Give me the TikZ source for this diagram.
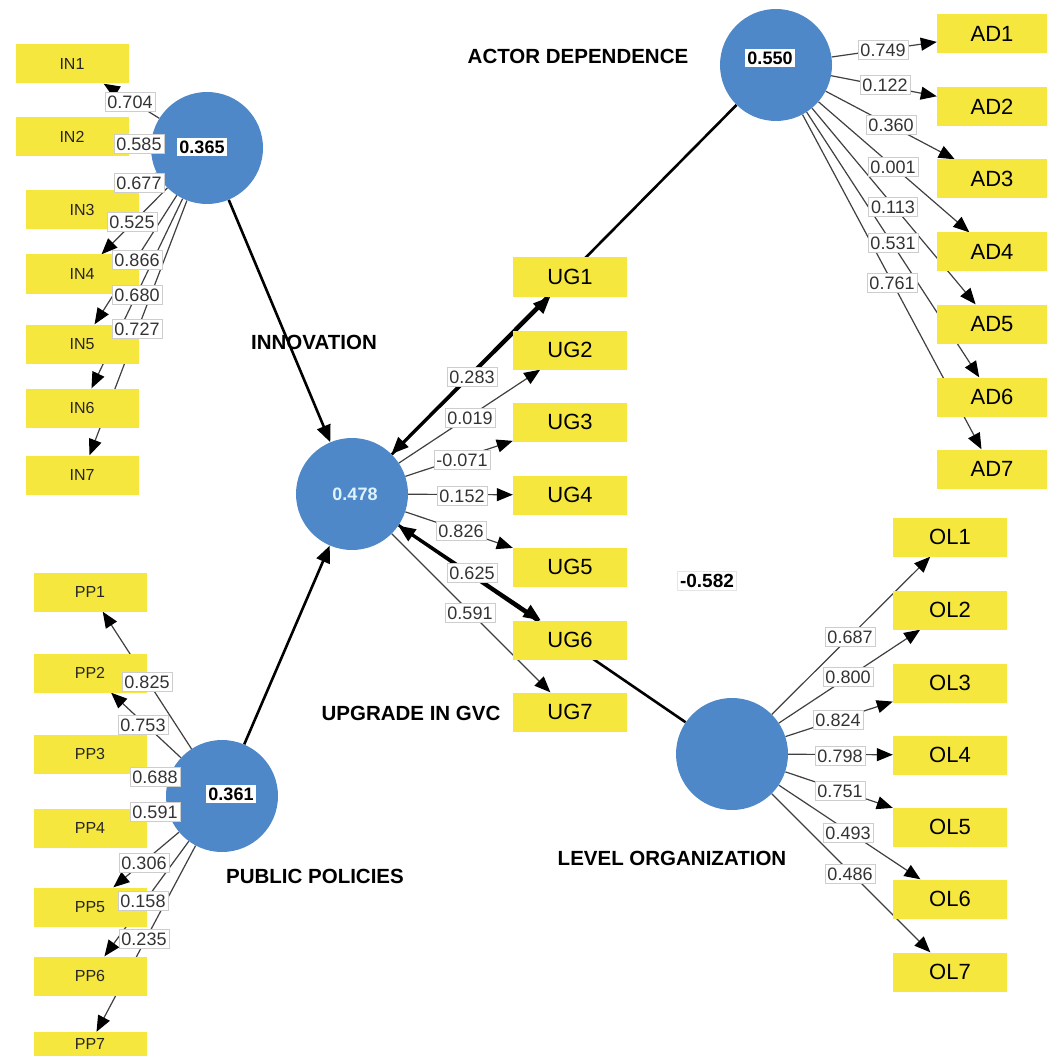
\documentclass[tikz,border=0pt]{standalone}
\usepackage{fontspec}
\setmainfont{Liberation Sans}
\usetikzlibrary{arrows.meta,backgrounds}
\definecolor{lvblue}{RGB}{78,136,200}
\definecolor{mvyellow}{RGB}{246,231,62}
\definecolor{lblgray}{RGB}{205,205,205}
\definecolor{valblue}{RGB}{222,242,255}
\begin{document}
\begin{tikzpicture}[x=1pt,y=-1pt,
  lv/.style={circle,fill=lvblue,minimum size=112pt,inner sep=0pt},
  mv/.style={fill=mvyellow,minimum width=113pt,minimum height=39pt,inner sep=0pt,font=\fontsize{16}{18}\selectfont,text=black!85},
  mvbig/.style={mv,font=\fontsize{22}{24}\selectfont,text=black},
  ld/.style={fill=white,draw=lblgray,line width=0.6pt,inner xsep=2.5pt,inner ysep=3pt,font=\fontsize{18}{20}\selectfont,text=black!80},
  lvval/.style={fill=white,inner sep=2.5pt,font=\bfseries\fontsize{18}{20}\selectfont},
  lvname/.style={font=\bfseries\fontsize{20.5}{24}\selectfont},
  load/.style={line width=1.2pt,draw=black!75,-{Triangle[length=16pt,width=13pt,color=black]}},
  loadthick/.style={line width=2.6pt,draw=black,-{Triangle[length=17pt,width=14pt]}},
  struct/.style={line width=2.6pt,draw=black,-{Triangle[length=17pt,width=14pt]}},
]
\useasboundingbox (0,0) rectangle (1049,1056);
\clip (0,0) rectangle (1049,1056);

% latent variables
\node[lv] (inno) at (207,148) {};
\node[lv] (cent) at (352,494) {};
\node[lv] (actd) at (776,65) {};
\node[lv] (pubp) at (222,796) {};
\node[lv] (levo) at (732,754) {};

% indicators
\node[mv] (in1) at (72,64) {IN1};
\node[mv] (in2) at (72,137) {IN2};
\node[mv] (in3) at (82,210) {IN3};
\node[mv] (in4) at (82,274) {IN4};
\node[mv] (in5) at (82,344) {IN5};
\node[mv] (in6) at (82,408) {IN6};
\node[mv] (in7) at (82,475) {IN7};

\node[mv] (pp1) at (90,592) {PP1};
\node[mv] (pp2) at (90,673) {PP2};
\node[mv] (pp3) at (90,754) {PP3};
\node[mv] (pp4) at (90,828) {PP4};
\node[mv] (pp5) at (90,907) {PP5};
\node[mv] (pp6) at (90,976) {PP6};
\node[mv,minimum height=24pt] (pp7) at (90,1044) {PP7};

\node[mvbig,minimum width=110pt] (ad1) at (992,34) {AD1};
\node[mvbig,minimum width=110pt] (ad2) at (992,107) {AD2};
\node[mvbig,minimum width=110pt] (ad3) at (992,179) {AD3};
\node[mvbig,minimum width=110pt] (ad4) at (992,252) {AD4};
\node[mvbig,minimum width=110pt] (ad5) at (992,324) {AD5};
\node[mvbig,minimum width=110pt] (ad6) at (992,397) {AD6};
\node[mvbig,minimum width=110pt] (ad7) at (992,469) {AD7};

\node[mvbig,minimum width=114pt] (ug1) at (570,277) {UG1};
\node[mvbig,minimum width=114pt] (ug2) at (570,350) {UG2};
\node[mvbig,minimum width=114pt] (ug3) at (570,422) {UG3};
\node[mvbig,minimum width=114pt] (ug4) at (570,495) {UG4};
\node[mvbig,minimum width=114pt] (ug5) at (570,567) {UG5};
\node[mvbig,minimum width=114pt] (ug6) at (570,640) {UG6};
\node[mvbig,minimum width=114pt] (ug7) at (570,712) {UG7};

\node[mvbig,minimum width=114pt] (ol1) at (950,537) {OL1};
\node[mvbig,minimum width=114pt] (ol2) at (950,610) {OL2};
\node[mvbig,minimum width=114pt] (ol3) at (950,683) {OL3};
\node[mvbig,minimum width=114pt] (ol4) at (950,755) {OL4};
\node[mvbig,minimum width=114pt] (ol5) at (950,827) {OL5};
\node[mvbig,minimum width=114pt] (ol6) at (950,899) {OL6};
\node[mvbig,minimum width=114pt] (ol7) at (950,972) {OL7};

% connectors
\begin{pgfonlayer}{background}
\fill[white] (0,0) rectangle (1049,1056);
\draw[struct] (inno) -- (cent);
\draw[struct] (pubp) -- (cent);
\draw[struct] (actd) -- (cent);
\draw[struct] (levo) -- (cent);
\foreach \i in {1,...,7} {
  \draw[load] (inno) -- (in\i);
  \draw[load] (pubp) -- (pp\i);
  \draw[load] (actd) -- (ad\i);
  \draw[load] (levo) -- (ol\i);
}
\draw[loadthick] (cent) -- (ug1);
\foreach \i in {2,3,4,5,7} \draw[load] (cent) -- (ug\i);
\draw[loadthick] (cent) -- (ug6);
\end{pgfonlayer}

% loading labels
\node[ld] (lin1) at (130,102) {0.704};
\node[ld] (lin2) at (139,144) {0.585};
\node[ld] (lin3) at (139,183) {0.677};
\node[ld] (lin4) at (132,222) {0.525};
\node[ld] (lin5) at (137,260) {0.866};
\node[ld] (lin6) at (137,295) {0.680};
\node[ld] (lin7) at (137,329) {0.727};

\node[ld] (lpp1) at (147,682) {0.825};
\node[ld] (lpp2) at (143,725) {0.753};
\node[ld] (lpp3) at (155,777) {0.688};
\node[ld] (lpp4) at (155,812) {0.591};
\node[ld] (lpp5) at (144,863) {0.306};
\node[ld] (lpp6) at (143,901) {0.158};
\node[ld] (lpp7) at (144,939) {0.235};

\node[ld] (lad1) at (883,50) {0.749};
\node[ld] (lad2) at (885,85) {0.122};
\node[ld] (lad3) at (891,125) {0.360};
\node[ld] (lad4) at (893,167) {0.001};
\node[ld] (lad5) at (893,207) {0.113};
\node[ld] (lad6) at (893,243) {0.531};
\node[ld] (lad7) at (892,283) {0.761};

\node[ld] (lug1) at (472,377) {0.283};
\node[ld] (lug2) at (470,418) {0.019};
\node[ld] (lug3) at (462,460) {-0.071};
\node[ld] (lug4) at (462,496) {0.152};
\node[ld] (lug5) at (461,531) {0.826};
\node[ld] (lug6) at (472,573) {0.625};
\node[ld] (lug7) at (470,613) {0.591};

\node[ld] (lol1) at (850,637) {0.687};
\node[ld] (lol2) at (848,677) {0.800};
\node[ld] (lol3) at (838,720) {0.824};
\node[ld] (lol4) at (840,756) {0.798};
\node[ld] (lol5) at (840,791) {0.751};
\node[ld] (lol6) at (848,833) {0.493};
\node[ld] (lol7) at (850,874) {0.486};

% R2 values and path coefficient
\node[lvval] (vinno) at (202,147) {0.365};
\node[lvval] (vactd) at (770,58) {0.550};
\node[font=\bfseries\fontsize{18}{20}\selectfont,text=valblue] (vcent) at (355,494) {0.478};
\node[lvval] (vpubp) at (231,794) {0.361};
\node[ld,draw=black!10,text=black,font=\bfseries\fontsize{19}{22}\selectfont] (pcoef) at (707,581) {-0.582};

% construct names
\node[lvname] (ninno) at (314,342) {INNOVATION};
\node[lvname] (nactd) at (578,56) {ACTOR DEPENDENCE};
\node[lvname] (ncent) at (411,713) {UPGRADE IN GVC};
\node[lvname] (npubp) at (315,876) {PUBLIC POLICIES};
\node[lvname] (nlevo) at (672,858) {LEVEL ORGANIZATION};
\end{tikzpicture}
\end{document}
